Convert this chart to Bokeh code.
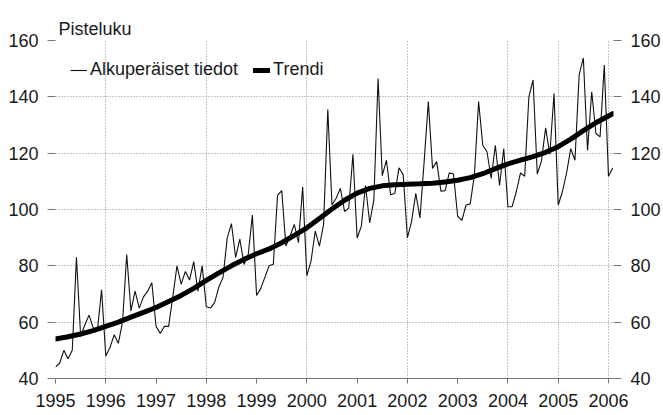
from bokeh.plotting import figure
from bokeh.models import Range1d, LinearAxis, FixedTicker, Legend, LegendItem, ColumnDataSource
from bokeh.embed import file_html
from bokeh.resources import INLINE

# ---- data ----
start_year = 1995
raw_values = [
    44, 45.5, 50, 47, 50, 83, 55, 59, 62.5, 58, 57, 71.5,            # 1995
    48, 51, 55.5, 52.5, 60, 84, 64, 71, 65, 69, 71, 74,              # 1996
    58.5, 56, 58.5, 58.5, 69, 80, 73.5, 78, 75, 81.5, 71, 80,        # 1997
    65.5, 65, 67, 72.5, 76, 90, 95, 83, 89.5, 80.5, 84, 98,          # 1998
    69.5, 72, 76, 80, 80.6, 105, 106.7, 87, 90.6, 94.7, 88.2, 108,   # 1999
    76.5, 81.7, 92.3, 87, 94.7, 135.5, 101.6, 104, 107.5, 99.3, 100.5, 119.6,  # 2000
    89.9, 94, 108.5, 95.2, 103.4, 146.5, 112, 117.5, 105.2, 105.7, 114.8, 112.3,  # 2001
    89.9, 95.8, 105.7, 97, 117, 138.3, 114.6, 117, 106.5, 106.7, 113, 112.6,  # 2002
    97.6, 96.1, 101.6, 102, 112.3, 138.3, 122.8, 120.5, 111, 122.8, 108.5, 121.6,  # 2003
    101, 101, 106.3, 113, 111.8, 140, 146, 112.6, 117.2, 129, 119.6, 141.2,  # 2004
    101.6, 106.3, 113, 121.6, 117.5, 147.8, 153.8, 121, 141.8, 127, 125.8, 151.3,  # 2005
    111.8, 114.7,                                                      # 2006
]
trend_months = [0, 3, 6, 9, 12, 15, 18, 21, 24, 27, 30, 33, 36, 39, 42, 45, 48, 51,
                54, 57, 60, 63, 66, 69, 72, 75, 78, 81, 84, 87, 90, 93, 96, 99, 102,
                105, 108, 111, 114, 117, 120, 123, 126, 129, 132, 133]
trend_values = [54, 54.8, 55.8, 57, 58.5, 60, 61.8, 63.5, 65.2, 67.3, 69.5, 72, 74.8,
                77.5, 80, 82.3, 84.3, 86, 88.2, 90.8, 93.5, 96.8, 100.2, 103.3, 105.8,
                107.5, 108.4, 108.8, 109, 109.1, 109.3, 109.8, 110.4, 111.3, 112.7,
                114.5, 116.2, 117.5, 118.8, 120.3, 122.3, 125, 128, 130.8, 133.2, 134]
year_ticks = list(range(1995, 2007))
value_ticks = [40, 60, 80, 100, 120, 140, 160]
grid_years = [1995, 1996, 1998, 2000, 2002, 2004, 2005, 2006]

raw_src = ColumnDataSource(dict(x=[start_year + i / 12 for i in range(len(raw_values))], y=raw_values))
trend_src = ColumnDataSource(dict(x=[start_year + m / 12 for m in trend_months], y=trend_values))

FONT = "Liberation Sans"
TXT = "#1a1a1a"

p = figure(width=663, height=412, x_range=Range1d(1995, 2006.1), y_range=Range1d(40, 160),
           output_backend="svg", toolbar_location=None,
           min_border_left=55, min_border_right=47, min_border_top=40, min_border_bottom=34,
           outline_line_color=None, background_fill_color="white", border_fill_color="white")

p.title.text = "Pisteluku"
p.title.align = "left"
p.title.text_font = FONT
p.title.text_font_size = "18px"
p.title.text_font_style = "normal"
p.title.text_color = TXT
p.title.offset = 3
p.title.standoff = 4

raw_r = p.line("x", "y", source=raw_src, line_color="#111111", line_width=1.1)
trend_r = p.line("x", "y", source=trend_src, line_color="#000000", line_width=5, line_join="round", line_cap="round")

# x axis
xa = p.xaxis[0]
xa.ticker = FixedTicker(ticks=year_ticks)
xa.major_tick_out = 5
xa.major_tick_in = 0
xa.minor_tick_line_color = None
xa.axis_line_color = "#777777"
xa.major_tick_line_color = "#777777"
xa.major_label_text_font = FONT
xa.major_label_text_font_size = "18px"
xa.major_label_text_color = TXT
xa.major_label_standoff = 10

# y axes
ya = p.yaxis[0]
ra = LinearAxis()
p.add_layout(ra, "right")
for ax in (ya, ra):
    ax.ticker = FixedTicker(ticks=value_ticks)
    ax.major_tick_out = 8
    ax.major_tick_in = 0
    ax.minor_tick_line_color = None
    ax.axis_line_color = None
    ax.major_tick_line_color = "#777777"
    ax.major_label_text_font = FONT
    ax.major_label_text_font_size = "18px"
    ax.major_label_text_color = TXT
    ax.major_label_standoff = 9

# grids
p.xgrid.ticker = FixedTicker(ticks=grid_years)
p.ygrid.ticker = FixedTicker(ticks=value_ticks[1:])
for g in (p.xgrid[0], p.ygrid[0]):
    g.grid_line_color = "#8c8c8c"
    g.grid_line_dash = "1 2"
    g.grid_line_width = 1

legend = Legend(items=[LegendItem(label="Alkuperäiset tiedot", renderers=[raw_r]),
                       LegendItem(label="Trendi", renderers=[trend_r])],
                orientation="horizontal", location=(15, 298),
                padding=0, margin=0, spacing=15, glyph_width=17, label_standoff=3,
                label_text_font=FONT, label_text_font_size="18px", label_text_color=TXT,
                background_fill_alpha=0, border_line_alpha=0)
p.add_layout(legend)

open("out.html", "w").write(file_html(p, INLINE))
